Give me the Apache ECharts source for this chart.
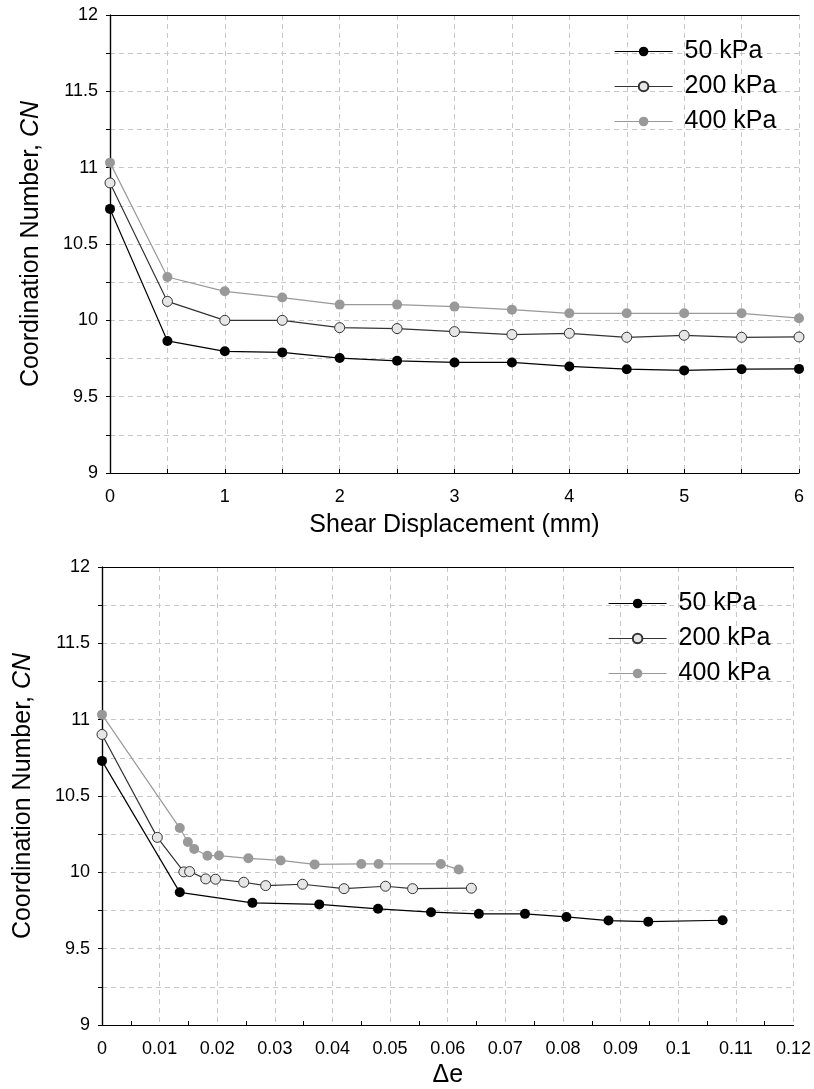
<!DOCTYPE html>
<html>
<head>
<meta charset="utf-8">
<title>Coordination Number</title>
<script src="https://cdn.jsdelivr.net/npm/echarts@6/dist/echarts.min.js"></script>
<style>
  html, body { margin: 0; padding: 0; background: #fff; }
  #chart { width: 814px; height: 1089px; }
</style>
</head>
<body>
<div id="chart"></div>
<script>
// top chart: CN vs shear displacement (mm)
const shearDisp = [0, 0.5, 1, 1.5, 2, 2.5, 3, 3.5, 4, 4.5, 5, 5.5, 6]
const cn50Shear = [10.73, 9.865, 9.797, 9.79, 9.753, 9.735, 9.724, 9.724, 9.698, 9.68, 9.672, 9.68, 9.682]
const cn200Shear = [10.90, 10.124, 10.0, 10.0, 9.952, 9.946, 9.926, 9.907, 9.915, 9.889, 9.902, 9.889, 9.891]
const cn400Shear = [11.033, 10.284, 10.19, 10.149, 10.103, 10.103, 10.09, 10.07, 10.046, 10.046, 10.046, 10.046, 10.014]

// bottom chart: CN vs delta e
const de50 = [0, 0.0135, 0.0261, 0.0377, 0.0479, 0.0571, 0.0654, 0.0734, 0.0806, 0.0879, 0.0948, 0.1077]
const cn50De = [10.73, 9.869, 9.80, 9.79, 9.761, 9.739, 9.728, 9.728, 9.708, 9.684, 9.677, 9.686]
const de200 = [0, 0.0096, 0.0142, 0.0152, 0.0180, 0.0197, 0.0246, 0.0284, 0.0348, 0.0420, 0.0492, 0.0539, 0.0641]
const cn200De = [10.903, 10.229, 10.003, 10.005, 9.957, 9.955, 9.935, 9.913, 9.922, 9.893, 9.909, 9.893, 9.896]
const de400 = [0, 0.0135, 0.0149, 0.0160, 0.0183, 0.0203, 0.0254, 0.0310, 0.0369, 0.0450, 0.0480, 0.0588, 0.0619]
const cn400De = [11.033, 10.29, 10.199, 10.153, 10.109, 10.11, 10.092, 10.078, 10.052, 10.055, 10.055, 10.055, 10.018]

const seriesNames = ['50 kPa', '200 kPa', '400 kPa']

const FONT = 'Liberation Sans, Arial, sans-serif'
const gridLine = { show: true, lineStyle: { color: '#c8c8c8', width: 1, type: [5, 4] } }
const blackLine = { show: true, lineStyle: { color: '#000', width: 1.2 } }

// series look: black / white-with-border / gray
const styles = [
  { line: '#000', fill: '#000', border: '#000', bw: 0 },
  { line: '#333', fill: '#e6e6e6', border: '#333', bw: 1 },
  { line: '#999', fill: '#999', border: '#999', bw: 0 }
]

function zip (xs, ys) {
  return xs.map((x, i) => [x, ys[i]])
}

function halfStep (v) {
  return Math.abs(v * 2 - Math.round(v * 2)) < 1e-6
}

function makeSeries (idx, data, gi) {
  const s = styles[idx]
  return {
    name: seriesNames[idx],
    type: 'line',
    xAxisIndex: gi * 2,
    yAxisIndex: gi * 2,
    data: data,
    symbol: 'circle',
    symbolSize: 10,
    animation: false,
    z: 3,
    lineStyle: { color: s.line, width: 1.2 },
    itemStyle: { color: s.fill, borderColor: s.border, borderWidth: s.bw }
  }
}

function yAxes (gi) {
  return [
    {
      type: 'value', gridIndex: gi, min: 9, max: 12, interval: 0.25,
      name: '{a|Coordination Number, }{i|CN}',
      nameLocation: 'middle', nameRotate: 90, nameGap: 66,
      nameTextStyle: {
        rich: {
          a: { fontFamily: FONT, fontSize: 25, color: '#000' },
          i: { fontFamily: FONT, fontSize: 25, color: '#000', fontStyle: 'italic' }
        }
      },
      axisLine: blackLine,
      axisTick: { show: false },
      axisLabel: {
        margin: 12, fontFamily: FONT, fontSize: 18, color: '#000',
        formatter: v => halfStep(v) ? String(+v.toFixed(2)) : ''
      },
      splitLine: gridLine
    },
    {
      type: 'value', gridIndex: gi, min: 9, max: 12, interval: 0.25, position: 'right',
      axisLine: blackLine,
      axisTick: { show: true, inside: true, length: 4, lineStyle: { color: '#000' } },
      axisLabel: { show: false },
      splitLine: { show: false }
    }
  ]
}

// plain black frame line along the top of a grid
function topAxis (gi, max) {
  return {
    type: 'value', gridIndex: gi, min: 0, max: max, position: 'top',
    axisLine: blackLine, axisTick: { show: false }, axisLabel: { show: false },
    splitLine: { show: false }
  }
}

function legendAt (left, top) {
  return {
    left: left, top: top, orient: 'vertical',
    data: seriesNames,
    itemWidth: 58, itemHeight: 12, itemGap: 10,
    lineStyle: { width: 1.2 },
    textStyle: { fontFamily: FONT, fontSize: 25, color: '#000', padding: [0, 0, 0, 7] }
  }
}

const chart = echarts.init(document.getElementById('chart'), null, { renderer: 'canvas' })

chart.setOption({
  animation: false,
  backgroundColor: '#fff',
  legend: [legendAt(609, 34), legendAt(603, 586)],
  grid: [
    { left: 110, top: 15, width: 689, height: 458 },
    { left: 102, top: 567, width: 692, height: 459 }
  ],
  xAxis: [
    {
      type: 'value', gridIndex: 0, min: 0, max: 6, interval: 0.5,
      name: 'Shear Displacement (mm)', nameLocation: 'middle', nameGap: 40,
      nameTextStyle: { fontFamily: FONT, fontSize: 25, color: '#000' },
      axisLine: blackLine,
      axisTick: { show: true, inside: true, length: 4, lineStyle: { color: '#000' } },
      axisLabel: {
        margin: 15, fontFamily: FONT, fontSize: 18, color: '#000',
        formatter: v => Math.abs(v - Math.round(v)) < 1e-6 ? String(Math.round(v)) : ''
      },
      splitLine: gridLine
    },
    topAxis(0, 6),
    {
      type: 'value', gridIndex: 1, min: 0, max: 0.12, interval: 0.01,
      name: 'Δe', nameLocation: 'middle', nameGap: 38,
      nameTextStyle: { fontFamily: FONT, fontSize: 25, color: '#000' },
      axisLine: blackLine,
      axisTick: { show: false, inside: true, length: 4 },
      minorTick: { show: true, splitNumber: 2, length: 4, lineStyle: { color: '#000' } },
      axisLabel: {
        margin: 15, fontFamily: FONT, fontSize: 18, color: '#000',
        formatter: v => String(+v.toFixed(2))
      },
      splitLine: gridLine
    },
    topAxis(1, 0.12)
  ],
  yAxis: yAxes(0).concat(yAxes(1)),
  series: [
    makeSeries(0, zip(shearDisp, cn50Shear), 0),
    makeSeries(1, zip(shearDisp, cn200Shear), 0),
    makeSeries(2, zip(shearDisp, cn400Shear), 0),
    makeSeries(0, zip(de50, cn50De), 1),
    makeSeries(1, zip(de200, cn200De), 1),
    makeSeries(2, zip(de400, cn400De), 1)
  ]
})
</script>
</body>
</html>
